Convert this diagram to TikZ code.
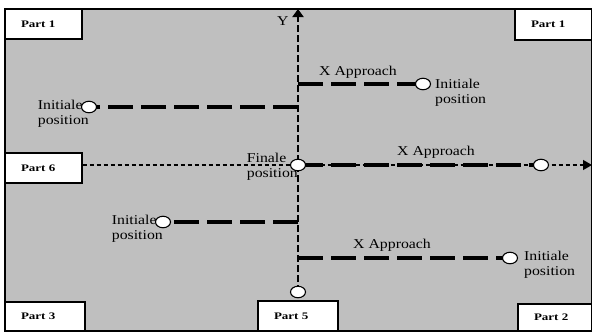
\documentclass[tikz,border=0pt]{standalone}
\usepackage{fontspec}
\setmainfont{Liberation Serif}
\newfontfamily\txtfont[FakeStretch=1.17]{Liberation Serif}
\newfontfamily\partfont[FakeStretch=1.3]{Liberation Serif}
\usetikzlibrary{arrows.meta, shapes.geometric}

\tikzset{
  part/.style={draw, fill=white, line width=1.1pt, align=left, inner xsep=16pt, minimum height=30pt, font=\partfont\bfseries\fontsize{10}{12}\selectfont},
  spot/.style={draw, fill=white, ellipse, line width=1.1pt, minimum width=15pt, minimum height=11.5pt, inner sep=0pt},
  approach/.style={line width=4pt, dash pattern=on 25pt off 8pt},
  yaxis/.style={line width=2.8pt, dash pattern=on 7pt off 3pt},
  guide/.style={line width=1.3pt, dash pattern=on 4pt off 3pt},
  txt/.style={inner sep=0pt, align=left, font=\txtfont\fontsize{13.5}{15}\selectfont}
}

\begin{document}
\begin{tikzpicture}[x=1pt, y=-1pt]
\useasboundingbox (0,0) rectangle (592,333);
\draw [fill=black!25, line width=1.1pt] (5,9) rectangle (592,331);
\node [part, text width=45pt] (p1l) at (43.5,24) {Part 1};
\node [part, text width=45pt, minimum height=31pt] (p1r) at (553.5,24.5) {Part 1};
\node [part, text width=45pt] (p6) at (43.5,168) {Part 6};
\node [part, text width=48pt, minimum height=29pt] (p3) at (45,316.5) {Part 3};
\node [part, text width=48pt] (p5) at (298,316) {Part 5};
\node [part, text width=42pt, minimum height=27pt] (p2) at (555,317.5) {Part 2};
\coordinate (i1) at (89,107);
\coordinate (i2) at (423,84);
\coordinate (fin) at (298,165);
\coordinate (ie) at (541,165);
\coordinate (i3) at (163,222);
\coordinate (i4) at (510,258);
\coordinate (bot) at (298,292);
\coordinate (ytop) at (298,9);
\coordinate (xend) at (592,165);
\draw [guide, -{Triangle[length=9pt, width=10pt]}] (p6.east |- fin) -- (xend);
\draw [yaxis, -{Triangle[length=8pt, width=11pt]}] (bot) -- (ytop);
\draw [approach] (fin |- i1) -- (i1);
\draw [approach] (fin |- i2) -- (i2);
\draw [approach] (fin) -- (ie);
\draw [approach] (fin |- i3) -- (i3);
\draw [approach] (fin |- i4) -- (i4);
\node [txt, anchor=north east, yshift=7pt] (t1) at (i1) {Initiale\\position};
\node [txt, anchor=north west, xshift=12pt, yshift=5pt] (t2) at (i2) {Initiale\\position};
\node [txt, anchor=north east, yshift=12pt] (t3) at (fin) {Finale\\position};
\node [txt, anchor=north east, yshift=7pt] (t4) at (i3) {Initiale\\position};
\node [txt, anchor=north west, xshift=14pt, yshift=7pt] (t5) at (i4) {Initiale\\position};
\node [txt, anchor=base west] (xa1) at (319,75) {X Approach};
\node [txt, anchor=base west] (xa2) at (397,155) {X Approach};
\node [txt, anchor=base west] (xa3) at (353,248) {X Approach};
\node [txt, anchor=base west] (ylab) at (277,25) {Y};
\node [spot] (s1) at (i1) {};
\node [spot] (s2) at (i2) {};
\node [spot] (s3) at (fin) {};
\node [spot] (s4) at (ie) {};
\node [spot] (s5) at (i3) {};
\node [spot] (s6) at (i4) {};
\node [spot] (s7) at (bot) {};
\end{tikzpicture}
\end{document}
